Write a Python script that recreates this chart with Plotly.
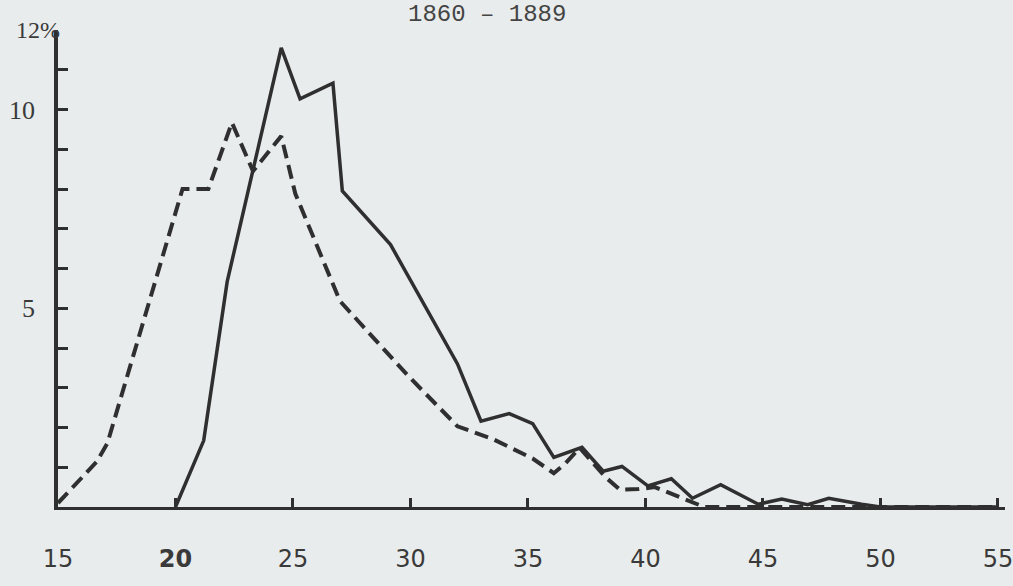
import plotly.graph_objects as go

# age at first marriage, 1860 - 1889 (in %)
solid_age = [20.0, 21.2, 22.2, 24.5, 25.3, 26.7, 27.1, 29.15, 32.0, 33.0, 34.2, 35.2,
             36.1, 37.3, 38.2, 39.0, 40.1, 41.1, 42.0, 43.2, 44.8, 45.8, 46.9,
             47.8, 49.2, 50.0, 55.0]
solid_pct = [0.0, 1.67, 5.67, 11.55, 10.27, 10.66, 7.95, 6.6, 3.6, 2.16, 2.35, 2.1,
             1.25, 1.5, 0.9, 1.02, 0.53, 0.71, 0.22, 0.56, 0.07, 0.2, 0.06,
             0.22, 0.07, 0.0, 0.0]

dashed_age = [15.0, 16.65, 17.1, 20.3, 21.4, 22.4, 23.3, 24.5, 25.1, 27.0, 29.9, 32.0,
              33.5, 35.2, 36.1, 36.6, 37.2, 38.3, 38.9, 39.7, 40.4, 41.6, 42.5, 55.0]
dashed_pct = [0.1, 1.14, 1.6, 8.0, 8.0, 9.67, 8.45, 9.33, 7.88, 5.18, 3.3, 2.03,
              1.71, 1.22, 0.85, 1.1, 1.49, 0.75, 0.44, 0.45, 0.5, 0.22, 0.0, 0.0]

x_ticks = [15, 20, 25, 30, 35, 40, 45, 50, 55]
x_labels = ["15", "<b>20</b>", "25", "30", "35", "40", "45", "50", "55"]
y_ticks = list(range(0, 13))
y_labels = {5: "5", 10: "10"}

ink = "#2f2f2f"
paper = "#e9ecec"

fig = go.Figure()
fig.add_trace(go.Scatter(x=dashed_age, y=dashed_pct, mode="lines",
                         line=dict(color=ink, width=4, dash="14px,7px")))
fig.add_trace(go.Scatter(x=solid_age, y=solid_pct, mode="lines",
                         line=dict(color=ink, width=3.5)))

fig.add_annotation(text="1860 \u2013 1889", xref="paper", yref="paper",
                   x=0.453, y=1.0, yanchor="bottom", yshift=0, showarrow=False,
                   font=dict(family="Liberation Mono", size=24, color="#444"))
# unit label at the top of the y axis
fig.add_annotation(text="12%", xref="paper", yref="y",
                   x=-0.046, y=12, xanchor="left", yanchor="middle", showarrow=False,
                   font=dict(family="Liberation Serif", size=24, color="#3a3a3a"))

fig.update_layout(
    width=1013, height=586,
    margin=dict(l=58, r=8, t=30, b=79, autoexpand=False),
    paper_bgcolor=paper, plot_bgcolor=paper,
    showlegend=False,
    xaxis=dict(range=[15, 55.3], showgrid=False, zeroline=False, automargin=False,
               showline=True, linecolor=ink, linewidth=3,
               ticks="inside", ticklen=9, tickwidth=3, tickcolor=ink,
               tickvals=x_ticks, ticktext=x_labels, ticklabelstandoff=28,
               ticklabeloverflow="allow",
               tickfont=dict(family="DejaVu Sans", size=24, color="#3a3a3a")),
    yaxis=dict(range=[0, 12], showgrid=False, zeroline=False, automargin=False,
               showline=True, linecolor=ink, linewidth=3.5,
               ticks="inside", ticklen=10, tickwidth=3, tickcolor=ink,
               tickvals=y_ticks, ticktext=[y_labels.get(v, "") for v in y_ticks],
               ticklabelstandoff=14,
               tickfont=dict(family="Liberation Serif", size=26, color="#3a3a3a")),
)

fig.write_html("out.html", config={"displayModeBar": False},
               post_script="document.body.style.margin='0';")
